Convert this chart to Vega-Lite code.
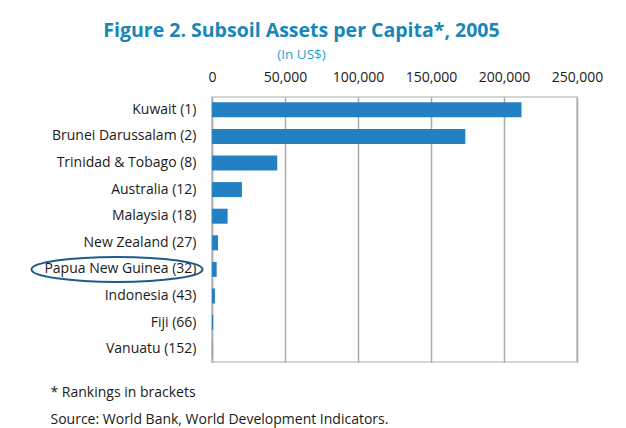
{
  "$schema": "https://vega.github.io/schema/vega-lite/v6.json",
  "width": 365,
  "height": 265,
  "autosize": {"type": "none"},
  "padding": {"left": 212, "top": 97, "right": 49, "bottom": 66},
  "background": "white",
  "title": {
    "text": "Figure 2. Subsoil Assets per Capita*, 2005",
    "subtitle": "(In US$)",
    "anchor": "middle",
    "frame": "group",
    "dx": -93,
    "font": "Open Sans",
    "fontSize": 19.5,
    "fontWeight": "bold",
    "color": "#1787b8",
    "subtitleFont": "Open Sans",
    "subtitleFontSize": 13.5,
    "subtitleColor": "#2b9fd0",
    "subtitlePadding": 6,
    "offset": 8
  },
  "data": {
    "values": [
      {"country": "Kuwait (1)", "assets": 212000},
      {"country": "Brunei Darussalam (2)", "assets": 173500},
      {"country": "Trinidad & Tobago (8)", "assets": 44700},
      {"country": "Australia (12)", "assets": 20500},
      {"country": "Malaysia (18)", "assets": 10700},
      {"country": "New Zealand (27)", "assets": 4100},
      {"country": "Papua New Guinea (32)", "assets": 3200},
      {"country": "Indonesia (43)", "assets": 2000},
      {"country": "Fiji (66)", "assets": 800},
      {"country": "Vanuatu (152)", "assets": 150}
    ]
  },
  "layer": [
    {
      "mark": {"type": "bar", "color": "#2381c3"},
      "encoding": {
        "y": {
          "field": "country",
          "type": "nominal",
          "sort": null,
          "scale": {"paddingInner": 0.436, "paddingOuter": 0.2},
          "axis": {
            "title": null,
            "labelFont": "Open Sans",
            "labelFontSize": 14,
            "labelColor": "#1a1a1a",
            "labelPadding": 16,
            "ticks": false,
            "domain": true,
            "domainColor": "#b0b0b0",
            "domainWidth": 1.5,
            "grid": false
          }
        },
        "x": {
          "field": "assets",
          "type": "quantitative",
          "scale": {"domain": [0, 250000], "nice": false},
          "axis": {
            "orient": "top",
            "values": [0, 50000, 100000, 150000, 200000, 250000],
            "format": ",.0f",
            "labelFont": "Open Sans",
            "labelFontSize": 14,
            "labelColor": "#1a1a1a",
            "labelPadding": 13,
            "labelFlush": false,
            "ticks": false,
            "domain": false,
            "grid": true,
            "gridColor": "#aaaaaa",
            "gridWidth": 1.5,
            "title": null
          }
        }
      }
    },
    {
      "transform": [{"filter": "datum.country === 'Papua New Guinea (32)'"}],
      "mark": {
        "type": "point",
        "shape": "M -1 0 A 1 0.1462 0 1 0 1 0 A 1 0.1462 0 1 0 -1 0 Z",
        "size": 29241,
        "filled": false,
        "stroke": "#1d5b8c",
        "strokeWidth": 2,
        "opacity": 1
      },
      "encoding": {
        "y": {"field": "country", "type": "nominal", "sort": null},
        "x": {
          "datum": -65068,
          "type": "quantitative",
          "scale": {"domain": [0, 250000], "nice": false},
          "axis": {
            "orient": "bottom",
            "labels": false,
            "ticks": false,
            "domain": false,
            "grid": false,
            "title": ["\u00a0* Rankings in brackets", "Source: World Bank, World Development Indicators."],
            "titleFont": "Open Sans",
            "titleFontSize": 14,
            "titleFontWeight": "normal",
            "titleColor": "#1a1a1a",
            "titleAnchor": "start",
            "titleAlign": "left",
            "titleX": -162,
            "titleY": 34,
            "titleBaseline": "alphabetic",
            "titleLineHeight": 27
          }
        }
      }
    }
  ],
  "resolve": {"axis": {"x": "independent"}},
  "config": {
    "view": {"stroke": "#c8c8c8", "strokeWidth": 1.5},
    "font": "Open Sans"
  }
}
